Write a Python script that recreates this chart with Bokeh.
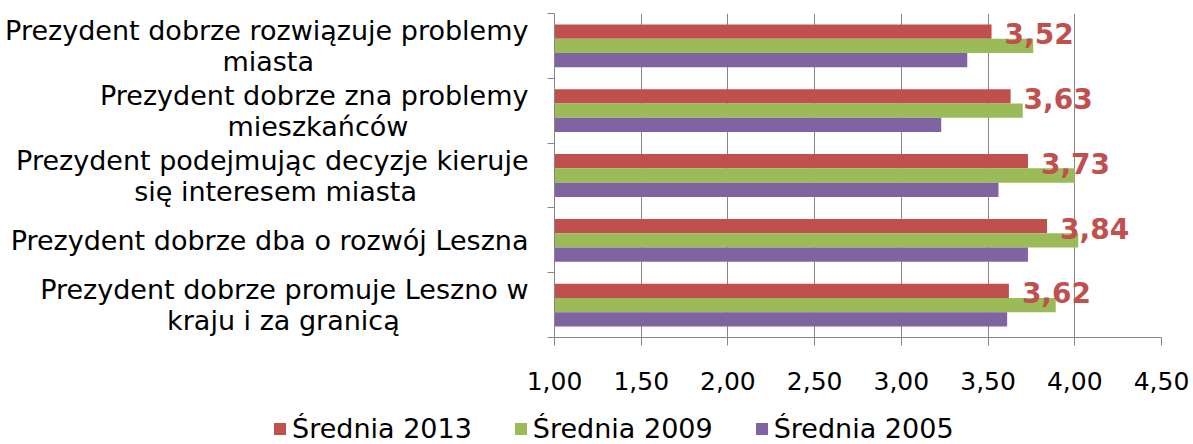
from bokeh.plotting import figure
from bokeh.layouts import column
from bokeh.models import (Range1d, FixedTicker, CustomJSTickFormatter, Legend,
                          LegendItem, ColumnDataSource)
from bokeh.embed import file_html
from bokeh.resources import INLINE
from bokeh.core.properties import value

# ---------------- data ----------------
categories = [
    "Prezydent dobrze rozwiązuje problemy\nmiasta",
    "Prezydent dobrze zna problemy\nmieszkańców",
    "Prezydent podejmując decyzje kieruje\nsię interesem miasta",
    "Prezydent dobrze dba o rozwój Leszna",
    "Prezydent dobrze promuje Leszno w\nkraju i za granicą",
]
sr2013 = [3.52, 3.63, 3.73, 3.84, 3.62]
sr2009 = [3.76, 3.70, 4.00, 4.02, 3.89]
sr2005 = [3.38, 3.23, 3.56, 3.73, 3.61]
series_names = ["Średnia 2013", "Średnia 2009", "Średnia 2005"]
colors = ["#C0504D", "#9BBB59", "#8064A2"]
x_ticks = [1.0, 1.5, 2.0, 2.5, 3.0, 3.5, 4.0, 4.5]

FONT = "DejaVu Sans"
n = len(categories)
centers = [n - i - 0.5 for i in range(n)]
bar_h = 0.22
offsets = [bar_h, 0.0, -bar_h]

p = figure(width=1193, height=400, output_backend="svg", toolbar_location=None,
           x_range=Range1d(1.0, 4.5), y_range=Range1d(0, n),
           min_border_left=554, min_border_right=32, min_border_top=13,
           min_border_bottom=63)
p.frame_align = False
p.outline_line_color = None
p.background_fill_color = "white"

sources = []
renderers = []
for vals, name, col, off in zip([sr2013, sr2009, sr2005], series_names, colors, offsets):
    src = ColumnDataSource(dict(y=[c + off for c in centers], right=vals))
    sources.append(src)
    r = p.hbar(y="y", left=1.0, right="right", height=bar_h, source=src,
               fill_color=col, line_color=None)
    renderers.append(r)

# data labels for 2013
lsrc = ColumnDataSource(dict(x=sr2013, y=[c + offsets[0] for c in centers],
                             t=[f"{v:.2f}".replace(".", ",") for v in sr2013]))
p.text(x="x", y="y", text="t", source=lsrc, x_offset=13, y_offset=2,
       text_align="left", text_baseline="middle", text_font=value(FONT),
       text_font_style="bold", text_font_size="28px", text_color=colors[0])

# x axis
p.xaxis.ticker = FixedTicker(ticks=x_ticks)
p.xaxis.formatter = CustomJSTickFormatter(code="return tick.toFixed(2).replace('.', ',');")
p.xaxis.axis_line_color = "#868686"
p.xaxis.major_tick_line_color = "#868686"
p.xaxis.major_tick_out = 8
p.xaxis.major_tick_in = 0
p.xaxis.minor_tick_line_color = None
p.xaxis.major_label_text_font = FONT
p.xaxis.major_label_text_font_size = "25px"
p.xaxis.major_label_text_color = "#000000"
p.xaxis.major_label_standoff = 26

p.xgrid.ticker = FixedTicker(ticks=x_ticks)
p.xgrid.grid_line_color = "#868686"
p.ygrid.grid_line_color = None

# y axis: labels centred line by line (pad shorter line so right-aligned box looks centred)
p.yaxis.ticker = FixedTicker(ticks=centers, minor_ticks=list(range(n + 1)))
p.yaxis.formatter = CustomJSTickFormatter(
    args=dict(labels=categories, n=n),
    code="""
const raw = labels[n - 1 - Math.floor(tick)];
const parts = raw.split("\\n");
if (parts.length < 2) return raw;
const c = document.createElement("canvas").getContext("2d");
c.font = "27px 'DejaVu Sans'";
const w0 = c.measureText(parts[0]).width;
const w1 = c.measureText(parts[1]).width;
const sp = c.measureText("\\u00a0").width;
const k = Math.max(0, Math.round((w0 - w1) / 2 / sp));
return parts[0] + "\\n" + parts[1] + "\\u00a0".repeat(k);
""")
p.yaxis.axis_line_color = "#868686"
p.yaxis.major_tick_line_color = None
p.yaxis.minor_tick_line_color = "#868686"
p.yaxis.minor_tick_out = 7
p.yaxis.minor_tick_in = 0
p.yaxis.major_label_text_font = FONT
p.yaxis.major_label_text_font_size = "27px"
p.yaxis.major_label_text_color = "#000000"
p.yaxis.major_label_standoff = 19
p.yaxis.major_label_text_line_height = 1.0

# legend strip below the chart (swatch renderers share the series data, drawn off-range)
lf = figure(width=1193, height=44, output_backend="svg", toolbar_location=None,
            x_range=Range1d(0, 1), y_range=Range1d(0, 1),
            x_axis_location=None, y_axis_location=None, min_border=0)
lf.frame_align = False
lf.outline_line_color = None
lf.grid.visible = False
swatches = [lf.hbar(y="y", left=1.0, right="right", height=bar_h, source=src,
                    fill_color=col, line_color=None)
            for src, col in zip(sources, colors)]
legend = Legend(items=[LegendItem(label=nm, renderers=[r]) for nm, r in zip(series_names, swatches)],
                orientation="horizontal", location=(272, 0),
                glyph_width=15, glyph_height=15, label_standoff=5, spacing=41,
                padding=0, margin=0, border_line_color=None,
                background_fill_alpha=0,
                label_text_font=FONT, label_text_font_size="27px",
                label_text_color="#000000")
lf.add_layout(legend, "center")

open("out.html", "w").write(file_html(column(p, lf, spacing=0), INLINE))
